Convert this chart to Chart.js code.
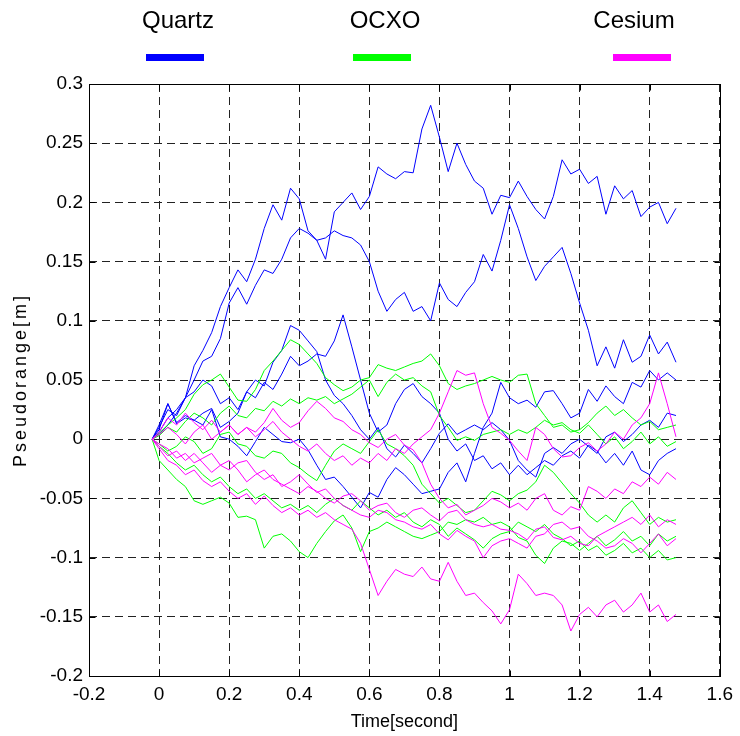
<!DOCTYPE html>
<html>
<head>
<meta charset="utf-8">
<script src="https://cdn.jsdelivr.net/npm/chart.js@4.4.1/dist/chart.umd.min.js"></script>
<style>
  body { margin: 0; background: #fff; }
  #wrap { width: 740px; height: 736px; }
</style>
</head>
<body>
<div id="wrap"><canvas id="walkChart" width="740" height="736"></canvas></div>
<script>
// sample times (s)
const time = [-0.02, 0, 0.025, 0.05, 0.075, 0.1, 0.125, 0.15, 0.175, 0.2,
  0.225, 0.25, 0.275, 0.3, 0.325, 0.35, 0.375, 0.4, 0.425, 0.45,
  0.475, 0.5, 0.525, 0.55, 0.575, 0.6, 0.625, 0.65, 0.675, 0.7,
  0.725, 0.75, 0.775, 0.8, 0.825, 0.85, 0.875, 0.9, 0.925, 0.95,
  0.975, 1, 1.025, 1.05, 1.075, 1.1, 1.125, 1.15, 1.175, 1.2,
  1.225, 1.25, 1.275, 1.3, 1.325, 1.35, 1.375, 1.4, 1.425, 1.45,
  1.475];

// pseudorange error runs (m), five per clock
const quartz1 = [0, 0.004, 0.012, 0.022, 0.035, 0.062, 0.075, 0.09, 0.112, 0.128,
  0.143, 0.133, 0.152, 0.178, 0.198, 0.185, 0.212, 0.203, 0.176, 0.168,
  0.152, 0.192, 0.2, 0.208, 0.194, 0.205, 0.23, 0.224, 0.22, 0.226,
  0.225, 0.262, 0.282, 0.255, 0.226, 0.25, 0.232, 0.218, 0.212, 0.19,
  0.206, 0.204, 0.218, 0.205, 0.194, 0.186, 0.205, 0.236, 0.224, 0.228,
  0.216, 0.222, 0.19, 0.214, 0.203, 0.21, 0.188, 0.196, 0.2, 0.182,
  0.195];
const quartz2 = [0, 0.006, 0.018, 0.025, 0.035, 0.05, 0.066, 0.07, 0.085, 0.115,
  0.128, 0.114, 0.13, 0.143, 0.14, 0.152, 0.17, 0.178, 0.174, 0.168,
  0.17, 0.176, 0.172, 0.17, 0.164, 0.15, 0.125, 0.108, 0.118, 0.124,
  0.108, 0.112, 0.1, 0.132, 0.118, 0.112, 0.124, 0.133, 0.156, 0.142,
  0.168, 0.198, 0.178, 0.154, 0.134, 0.146, 0.154, 0.162, 0.14, 0.115,
  0.092, 0.062, 0.078, 0.06, 0.084, 0.065, 0.07, 0.088, 0.072, 0.082,
  0.065];
const quartz3 = [0, 0.01, 0.025, 0.02, 0.035, 0.04, 0.05, 0.045, 0.03, 0.035,
  0.025, 0.04, 0.05, 0.045, 0.065, 0.075, 0.096, 0.092, 0.083, 0.074,
  0.05, 0.037, 0.03, 0.02, 0.008, 0, 0.01, -0.008, -0.015, -0.005,
  -0.012, -0.02, -0.008, 0.005, 0.013, 0.004, 0.008, 0.012, 0.008, 0.014,
  0.008, -0.001, -0.018, -0.026, -0.032, -0.012, -0.007, -0.012, -0.004, 0,
  -0.006, -0.012, 0.002, 0.006, -0.002, 0.004, 0.012, 0.016, 0.01, 0.022,
  0.02];
const quartz4 = [0, 0.012, 0.03, 0.014, 0.02, 0.016, 0.022, 0.026, 0.01, 0.015,
  0.022, 0.04, 0.035, 0.048, 0.042, 0.055, 0.07, 0.062, 0.066, 0.072,
  0.07, 0.083, 0.105, 0.078, 0.05, 0.022, 0.006, 0.012, 0.03, 0.042,
  0.047, 0.036, 0.03, 0.022, 0, -0.01, -0.004, -0.018, -0.014, -0.025,
  -0.02, -0.03, -0.022, -0.03, -0.024, -0.018, -0.022, -0.014, -0.01, -0.016,
  -0.005, -0.01, -0.02, -0.012, -0.022, -0.01, -0.026, -0.03, -0.018, -0.012,
  -0.008];
const quartz5 = [0, 0.008, 0.03, 0.013, 0.018, 0.016, 0.012, 0.025, 0.002, 0,
  -0.006, -0.014, -0.002, 0.01, 0.004, -0.002, -0.003, 0, -0.009, -0.022,
  -0.034, -0.032, -0.04, -0.049, -0.058, -0.045, -0.049, -0.034, -0.024, -0.03,
  -0.038, -0.046, -0.044, -0.042, -0.028, -0.02, -0.036, -0.012, 0.01, 0.022,
  0.048, 0.035, 0.03, 0.033, 0.027, 0.04, 0.041, 0.03, 0.018, 0.022,
  0.042, 0.032, 0.045, 0.036, 0.03, 0.048, 0.044, 0.058, 0.05, 0.056,
  0.05];

const ocxo1 = [0, 0.005, 0.012, 0.018, 0.025, 0.038, 0.046, 0.05, 0.055, 0.044,
  0.033, 0.032, 0.042, 0.058, 0.066, 0.075, 0.084, 0.08, 0.072, 0.064,
  0.052, 0.046, 0.041, 0.044, 0.05, 0.052, 0.063, 0.06, 0.058, 0.061,
  0.064, 0.066, 0.072, 0.062, 0.047, 0.042, 0.045, 0.047, 0.05, 0.053,
  0.05, 0.048, 0.054, 0.055, 0.03, 0.02, 0.01, 0.012, 0.006, 0.008,
  0.014, 0.022, 0.028, 0.02, 0.025, 0.018, 0.012, 0.015, 0.008, 0.01,
  0.012];
const ocxo2 = [0, 0.003, 0.01, 0.006, 0.015, 0.022, 0.018, 0.012, 0.022, 0.028,
  0.02, 0.018, 0.026, 0.024, 0.032, 0.028, 0.034, 0.03, 0.035, 0.033,
  0.036, 0.03, 0.034, 0.038, 0.044, 0.05, 0.036, 0.048, 0.055, 0.05,
  0.052, 0.045, 0.04, 0.02, 0.01, -0.001, 0.002, -0.001, 0.004, 0.006,
  0.008, 0.004, 0.008, 0.005, 0.01, 0.016, 0.012, 0.014, 0.008, 0.005,
  0.012, 0.004, -0.004, 0.002, -0.008, -0.002, 0.006, -0.004, 0.002, -0.006,
  -0.002];
const ocxo3 = [0, -0.004, -0.01, -0.006, 0.002, -0.002, -0.012, -0.008, 0.004, 0.006,
  -0.004, -0.006, -0.014, -0.016, -0.01, -0.012, -0.02, -0.024, -0.03, -0.035,
  -0.022, -0.01, -0.004, -0.008, -0.012, -0.002, 0.008, -0.004, -0.008, -0.014,
  -0.022, -0.038, -0.046, -0.054, -0.05, -0.056, -0.062, -0.06, -0.052, -0.044,
  -0.047, -0.052, -0.046, -0.043, -0.036, -0.022, -0.028, -0.037, -0.046, -0.054,
  -0.064, -0.07, -0.064, -0.07, -0.058, -0.052, -0.062, -0.072, -0.066, -0.07,
  -0.068];
const ocxo4 = [0, -0.018, -0.026, -0.034, -0.04, -0.052, -0.055, -0.052, -0.049, -0.054,
  -0.066, -0.065, -0.068, -0.092, -0.082, -0.08, -0.086, -0.095, -0.1, -0.088,
  -0.078, -0.069, -0.064, -0.075, -0.095, -0.078, -0.075, -0.07, -0.074, -0.078,
  -0.082, -0.084, -0.081, -0.078, -0.07, -0.072, -0.068, -0.07, -0.066, -0.072,
  -0.07, -0.074, -0.083, -0.086, -0.098, -0.105, -0.092, -0.086, -0.088, -0.094,
  -0.088, -0.082, -0.09, -0.085, -0.078, -0.086, -0.082, -0.09, -0.08, -0.086,
  -0.082];
const ocxo5 = [0, -0.006, -0.012, -0.02, -0.026, -0.022, -0.03, -0.036, -0.032, -0.04,
  -0.046, -0.042, -0.05, -0.046, -0.052, -0.058, -0.055, -0.06, -0.056, -0.062,
  -0.055, -0.05, -0.056, -0.06, -0.052, -0.058, -0.064, -0.06, -0.066, -0.062,
  -0.07, -0.074, -0.068, -0.072, -0.082, -0.075, -0.08, -0.085, -0.092, -0.084,
  -0.08, -0.078, -0.07, -0.074, -0.078, -0.072, -0.08, -0.084, -0.09, -0.086,
  -0.094, -0.09, -0.098, -0.094, -0.088, -0.096, -0.092, -0.1, -0.094, -0.102,
  -0.1];

const cesium1 = [0, -0.008, -0.018, -0.022, -0.03, -0.026, -0.035, -0.04, -0.036, -0.044,
  -0.05, -0.046, -0.055, -0.048, -0.056, -0.062, -0.058, -0.064, -0.06, -0.066,
  -0.062, -0.068, -0.072, -0.076, -0.088, -0.11, -0.132, -0.12, -0.11, -0.114,
  -0.116, -0.108, -0.118, -0.12, -0.104, -0.12, -0.132, -0.13, -0.138, -0.145,
  -0.156, -0.144, -0.114, -0.122, -0.132, -0.13, -0.132, -0.14, -0.162, -0.148,
  -0.142, -0.15, -0.14, -0.136, -0.146, -0.14, -0.13, -0.146, -0.14, -0.154,
  -0.148];
const cesium2 = [0, 0.006, 0.018, 0.012, 0.022, 0.014, 0.008, 0.016, 0.006, 0.012,
  0.004, 0.01, 0.002, 0.008, 0.015, 0.006, 0, -0.006, -0.01, -0.004,
  -0.012, -0.018, -0.014, -0.022, -0.016, -0.02, -0.012, -0.018, -0.008, -0.012,
  -0.004, 0.002, 0.008, 0.022, 0.04, 0.058, 0.054, 0.056, 0.03, 0.01,
  0.005, -0.001, -0.01, -0.018, 0.01, 0.004, -0.008, -0.015, -0.014, -0.007,
  -0.003, -0.01, -0.004, 0.006, 0, 0.012, 0.018, 0.03, 0.056, 0.03,
  0.002];
const cesium3 = [0, 0.004, 0.01, 0.004, -0.004, 0.006, 0.012, 0, 0.006, 0.012,
  0.004, 0.01, 0.006, 0.014, 0.026, 0.016, 0.01, 0.014, 0.024, 0.032,
  0.026, 0.018, 0.015, 0.008, 0.004, -0.003, -0.007, 0, 0.004, -0.005,
  -0.009, -0.02, -0.038, -0.05, -0.058, -0.055, -0.064, -0.06, -0.056, -0.05,
  -0.053, -0.058, -0.054, -0.06, -0.05, -0.046, -0.06, -0.064, -0.057, -0.06,
  -0.04, -0.044, -0.05, -0.042, -0.046, -0.036, -0.04, -0.032, -0.038, -0.028,
  -0.034];
const cesium4 = [0, -0.006, -0.014, -0.01, -0.018, -0.012, -0.02, -0.028, -0.022, -0.018,
  -0.026, -0.036, -0.03, -0.026, -0.034, -0.038, -0.042, -0.046, -0.04, -0.044,
  -0.05, -0.054, -0.048, -0.046, -0.052, -0.06, -0.056, -0.054, -0.062, -0.066,
  -0.06, -0.058, -0.064, -0.069, -0.062, -0.06, -0.068, -0.072, -0.074, -0.072,
  -0.076, -0.077, -0.08, -0.085, -0.076, -0.074, -0.083, -0.085, -0.082, -0.088,
  -0.09, -0.082, -0.078, -0.074, -0.07, -0.066, -0.072, -0.064, -0.074, -0.068,
  -0.072];
const cesium5 = [0, -0.004, -0.008, -0.016, -0.012, -0.02, -0.016, -0.012, -0.022, -0.026,
  -0.02, -0.018, -0.028, -0.034, -0.03, -0.04, -0.036, -0.03, -0.038, -0.045,
  -0.042, -0.05, -0.056, -0.06, -0.064, -0.066, -0.06, -0.062, -0.068, -0.07,
  -0.074, -0.076, -0.072, -0.08, -0.085, -0.077, -0.082, -0.086, -0.1, -0.09,
  -0.086, -0.084, -0.088, -0.092, -0.082, -0.08, -0.072, -0.07, -0.076, -0.074,
  -0.082, -0.086, -0.092, -0.09, -0.084, -0.088, -0.096, -0.088, -0.08, -0.09,
  -0.084];

const seriesNames = ['Quartz', 'OCXO', 'Cesium'];
const seriesColors = ['#0000ff', '#00ff00', '#ff00ff'];
const seriesRuns = [
  [quartz1, quartz2, quartz3, quartz4, quartz5],
  [ocxo1, ocxo2, ocxo3, ocxo4, ocxo5],
  [cesium1, cesium2, cesium3, cesium4, cesium5]
];

const xTicks = [-0.2, 0, 0.2, 0.4, 0.6, 0.8, 1, 1.2, 1.4, 1.6];
const yTicks = [-0.2, -0.15, -0.1, -0.05, 0, 0.05, 0.1, 0.15, 0.2, 0.25, 0.3];

const FONT = '"Liberation Sans", Arial, Helvetica, sans-serif';

const datasets = [];
seriesRuns.forEach((runs, s) => {
  runs.forEach(run => {
    datasets.push({
      label: seriesNames[s],
      data: run.map((v, i) => ({ x: time[i], y: v })),
      borderColor: seriesColors[s],
      borderWidth: 1,
      pointRadius: 0,
      tension: 0,
      order: 2 - s
    });
  });
});

// box, inward tick marks, y title and the key above the axes
const boxAndKey = {
  id: 'boxAndKey',
  afterDraw(chart) {
    const { ctx, chartArea: a, scales } = chart;
    ctx.save();
    ctx.strokeStyle = '#000';
    ctx.lineWidth = 1;
    const l = Math.round(a.left) + 0.5, r = Math.round(a.right) + 0.5;
    const t = Math.round(a.top) + 0.5, b = Math.round(a.bottom) + 0.5;
    ctx.strokeRect(l, t, r - l, b - t);
    ctx.beginPath();
    xTicks.forEach(v => {
      const px = Math.round(scales.x.getPixelForValue(v)) + 0.5;
      ctx.moveTo(px, b); ctx.lineTo(px, b - 6);
      ctx.moveTo(px, t); ctx.lineTo(px, t + 6);
    });
    yTicks.forEach(v => {
      const py = Math.round(scales.y.getPixelForValue(v)) + 0.5;
      ctx.moveTo(l, py); ctx.lineTo(l + 6, py);
      ctx.moveTo(r, py); ctx.lineTo(r - 6, py);
    });
    ctx.stroke();

    // rotated y title, loosely spaced
    ctx.save();
    ctx.translate(21, (a.top + a.bottom) / 2);
    ctx.rotate(-Math.PI / 2);
    ctx.font = '18px ' + FONT;
    ctx.letterSpacing = '3px';
    ctx.fillStyle = '#000';
    ctx.textAlign = 'center';
    ctx.textBaseline = 'middle';
    ctx.fillText('Pseudorange[m]', 0, 0);
    ctx.restore();

    const keyX = [178, 385, 634];
    const lineX = [175, 382, 642];
    ctx.font = '24px ' + FONT;
    ctx.textAlign = 'center';
    ctx.textBaseline = 'middle';
    seriesNames.forEach((name, s) => {
      ctx.fillStyle = '#000';
      ctx.fillText(name, keyX[s], 21);
      ctx.fillStyle = seriesColors[s];
      ctx.fillRect(lineX[s] - 29, 54, 58, 7);
    });
    ctx.restore();
  }
};

new Chart(document.getElementById('walkChart'), {
  type: 'line',
  data: { datasets },
  options: {
    responsive: false,
    animation: false,
    layout: { padding: { top: 84, right: 14, left: 0, bottom: 0 } },
    plugins: { legend: { display: false }, tooltip: { enabled: false } },
    scales: {
      x: {
        type: 'linear',
        min: -0.2,
        max: 1.6,
        afterBuildTicks: s => { s.ticks = xTicks.map(v => ({ value: v })); },
        afterFit: s => { s.height = 60; },
        grid: { color: '#222', lineWidth: 1, drawTicks: false },
        border: { display: false, dash: [8, 5] },
        ticks: { color: '#000', padding: 7, font: { size: 19, family: FONT }, maxRotation: 0,
                 callback: v => String(v) },
        title: { display: true, text: 'Time[second]', color: '#000',
                 font: { size: 18, family: FONT }, padding: { top: 0, bottom: 3 } }
      },
      y: {
        type: 'linear',
        min: -0.2,
        max: 0.3,
        afterBuildTicks: s => { s.ticks = yTicks.map(v => ({ value: v })); },
        afterFit: s => { s.width = 89; },
        grid: { color: '#222', lineWidth: 1, drawTicks: false },
        border: { display: false, dash: [8, 5] },
        ticks: { color: '#000', padding: 6, font: { size: 19, family: FONT },
                 callback: v => String(v) }
      }
    }
  },
  plugins: [boxAndKey]
});
</script>
</body>
</html>
